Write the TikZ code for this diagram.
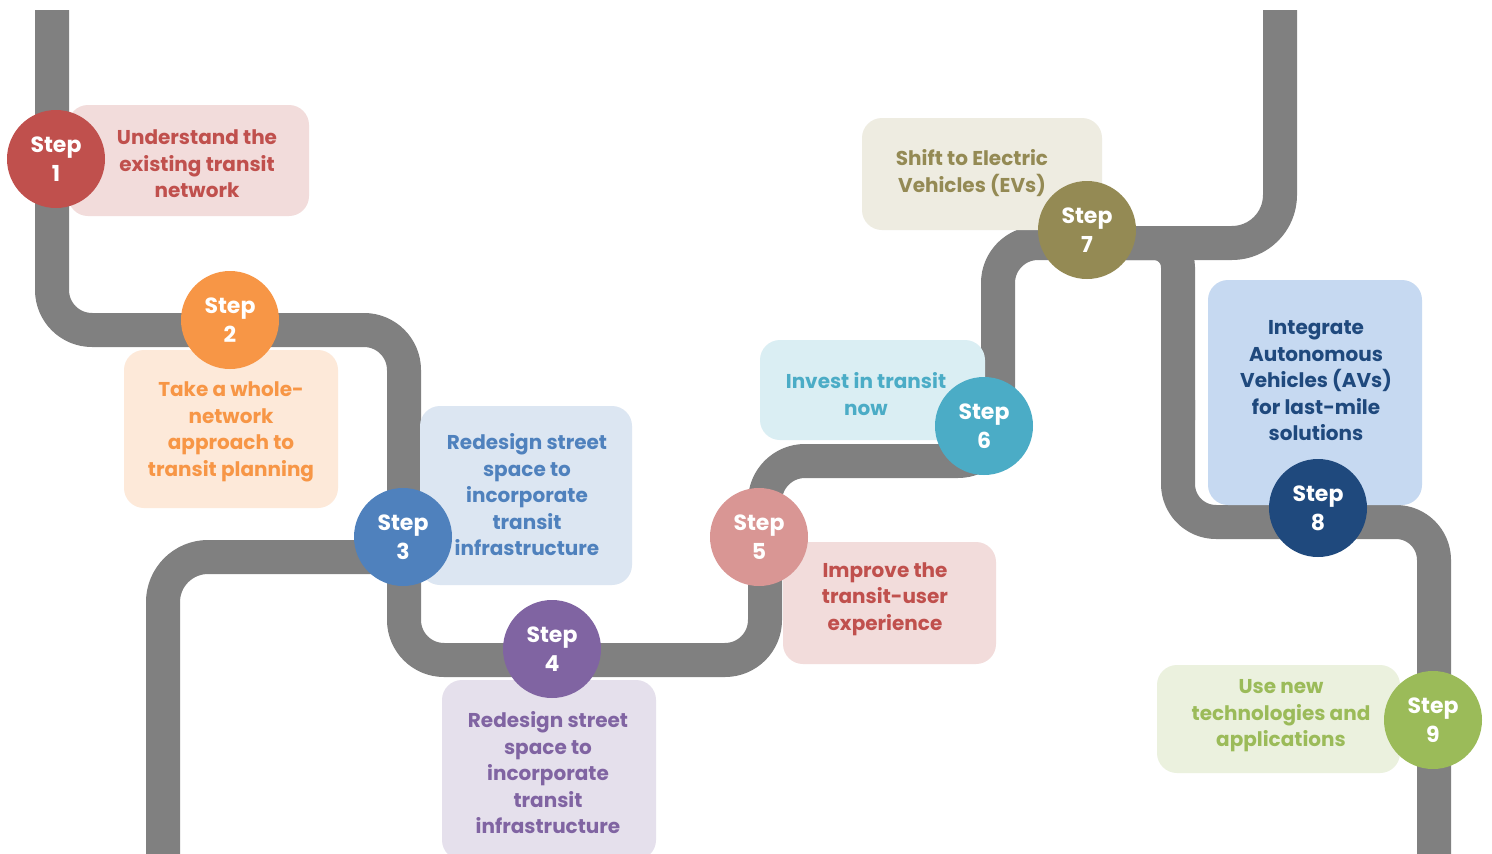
\documentclass[tikz,border=0pt]{standalone}
\usepackage{fontspec}
\setmainfont{Poppins}
\definecolor{roadgray}{HTML}{808080}
\definecolor{cA}{HTML}{C0504D}\definecolor{fA}{HTML}{F2DCDB}
\definecolor{cB}{HTML}{F79646}\definecolor{fB}{HTML}{FDE9D9}
\definecolor{cC}{HTML}{4F81BD}\definecolor{fC}{HTML}{DCE6F2}
\definecolor{cD}{HTML}{8064A2}\definecolor{fD}{HTML}{E5E0EC}
\definecolor{cE}{HTML}{D99694}\definecolor{fE}{HTML}{F2DCDB}
\definecolor{cF}{HTML}{4BACC6}\definecolor{fF}{HTML}{DAEEF3}
\definecolor{cG}{HTML}{948A54}\definecolor{fG}{HTML}{EEECE1}
\definecolor{cH}{HTML}{1F497D}\definecolor{fH}{HTML}{C6D9F1}
\definecolor{cI}{HTML}{9BBB59}\definecolor{fI}{HTML}{EBF1DE}
\begin{document}
\begin{tikzpicture}[x=1pt,y=-1pt,
  road/.style={line width=34pt, draw=roadgray, line cap=butt, line join=round},
  stepdot/.style={circle, fill=#1, minimum size=98pt, inner sep=0pt, text=white,
    font=\fontsize{22}{29}\selectfont\bfseries, align=center},
  stepbox/.style={rounded corners=20pt, fill=#1, inner sep=0pt},
  steptext/.style={text=#1, font=\fontsize{20}{26.5}\selectfont\bfseries, align=center, inner sep=0pt}]
\useasboundingbox (0,0) rectangle (1492,854);
\clip (0,0) rectangle (1492,854);
\fill[white] (0,0) rectangle (1492,854);
% road coordinates
\coordinate (a0) at (52,10);
\coordinate (a1) at (52,330);
\coordinate (a2) at (404,330);
\coordinate (a3) at (404,660);
\coordinate (a4) at (765,660);
\coordinate (a5) at (765,461);
\coordinate (a6) at (998,461);
\coordinate (a7) at (998,243);
\coordinate (a8) at (1087,243);
\coordinate (b0) at (163,870);
\coordinate (b1) at (163,557);
\coordinate (b2) at (404,557);
\coordinate (c0) at (1280,10);
\coordinate (c1) at (1280,243);
\coordinate (d1) at (1178,243);
\coordinate (d2) at (1178,420);
\coordinate (d3) at (1178,400);
\coordinate (d4) at (1178,522);
\coordinate (d5) at (1434,522);
\coordinate (d6) at (1434,870);
% roads
\draw[road, rounded corners=40pt] (a0) -- (a1) -- (a2) -- (a3) -- (a4) -- (a5) -- (a6) -- (a7) -- (a8);
\draw[road, rounded corners=45pt] (b0) -- (b1) -- (b2);
\draw[road, rounded corners=48pt] (c0) -- (c1) -- (a8);
\draw[road, rounded corners=24pt] (a8) -- (d1) -- (d2);
\draw[road, rounded corners=38pt] (d3) -- (d4) -- (d5) -- (d6);
% boxes
\node[stepbox=fA, minimum width=241pt, minimum height=111pt] (box1) at (188.5,160.5) {};
\node[stepbox=fB, minimum width=214pt, minimum height=158pt] (box2) at (231,429) {};
\node[stepbox=fC, minimum width=212pt, minimum height=179pt] (box3) at (526,495.5) {};
\node[stepbox=fD, minimum width=214pt, minimum height=180pt] (box4) at (549,770) {};
\node[stepbox=fE, minimum width=213pt, minimum height=122pt] (box5) at (889.5,603) {};
\node[stepbox=fF, minimum width=225pt, minimum height=100pt] (box6) at (872.5,390) {};
\node[stepbox=fG, minimum width=240pt, minimum height=112pt] (box7) at (982,174) {};
\node[stepbox=fH, minimum width=214pt, minimum height=225pt] (box8) at (1315,392.5) {};
\node[stepbox=fI, minimum width=243pt, minimum height=108pt] (box9) at (1278.5,719) {};
% texts
\node[steptext=cA] (t1) at (197,164) {Understand the\\existing transit\\network};
\node[steptext=cB] (t2) at (231,432) {Take a whole-\\network\\approach to\\transit planning};
\node[steptext=cC] (t3) at (527,495) {Redesign street\\space to\\incorporate\\transit\\infrastructure};
\node[steptext=cD] (t4) at (548,773) {Redesign street\\space to\\incorporate\\transit\\infrastructure};
\node[steptext=cA] (t5) at (885,599) {Improve the\\transit-user\\experience};
\node[steptext=cF] (t6) at (866,394) {Invest in transit\\now};
\node[steptext=cG] (t7) at (972,173) {Shift to Electric\\Vehicles (EVs)};
\node[steptext=cH] (t8) at (1316,381) {Integrate\\Autonomous\\Vehicles (AVs)\\for last-mile\\solutions};
\node[steptext=cI] (t9) at (1281,716) {Use new\\technologies and\\applications};
% step circles
\node[stepdot=cA] (s1) at (56,159) {Step\\1};
\node[stepdot=cB] (s2) at (230,320) {Step\\2};
\node[stepdot=cC] (s3) at (403,537) {Step\\3};
\node[stepdot=cD] (s4) at (552,649) {Step\\4};
\node[stepdot=cE] (s5) at (759,537) {Step\\5};
\node[stepdot=cF] (s6) at (984,426) {Step\\6};
\node[stepdot=cG] (s7) at (1087,230) {Step\\7};
\node[stepdot=cH] (s8) at (1318,508) {Step\\8};
\node[stepdot=cI] (s9) at (1433,720) {Step\\9};
\end{tikzpicture}
\end{document}
